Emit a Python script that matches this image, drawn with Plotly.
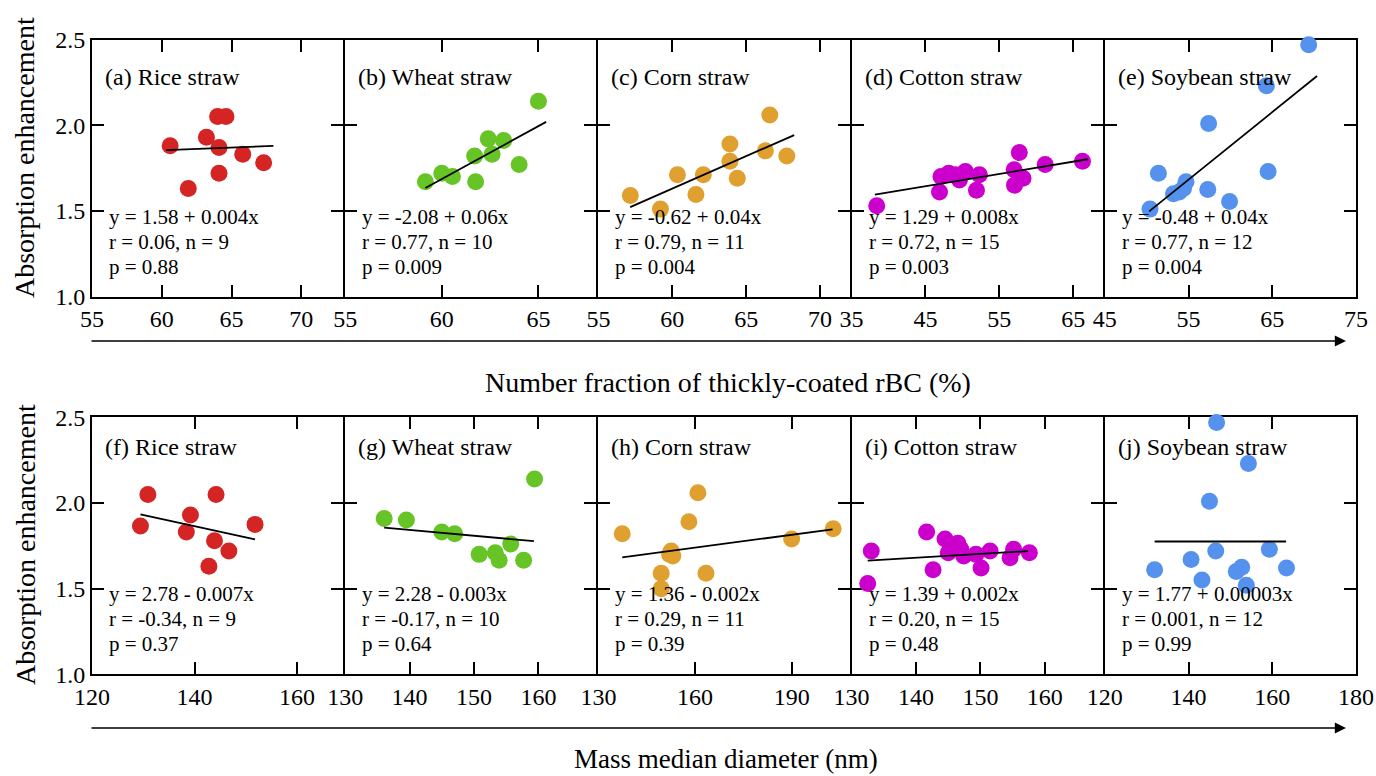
import plotly.graph_objects as go

# ---------------- data ----------------
# Row 1: number fraction of thickly-coated rBC (%)
nf_rice_x = [60.6, 61.9, 63.2, 64.0, 64.6, 64.1, 64.1, 65.8, 67.3]
nf_rice_y = [1.88, 1.63, 1.93, 2.05, 2.05, 1.87, 1.72, 1.83, 1.78]
nf_wheat_x = [59.15, 60.0, 60.55, 61.7, 61.75, 62.4, 62.6, 63.2, 64.0, 65.0]
nf_wheat_y = [1.67, 1.72, 1.70, 1.82, 1.67, 1.92, 1.83, 1.91, 1.77, 2.14]
nf_corn_x = [57.16, 59.2, 60.35, 61.6, 62.1, 63.9, 63.9, 64.4, 66.3, 66.6, 67.75]
nf_corn_y = [1.59, 1.51, 1.71, 1.595, 1.71, 1.89, 1.79, 1.69, 1.85, 2.06, 1.82]
nf_cotton_x = [38.4, 46.9, 47.1, 48.15, 49.05, 49.6, 50.4, 51.9, 52.3, 57.0, 57.05, 57.7, 58.2, 61.2, 66.25]
nf_cotton_y = [1.53, 1.61, 1.70, 1.72, 1.71, 1.68, 1.73, 1.62, 1.71, 1.74, 1.65, 1.84, 1.69, 1.77, 1.79]
nf_soy_x = [50.4, 51.4, 53.2, 53.9, 54.4, 54.7, 57.3, 57.4, 59.9, 64.3, 64.5, 69.35]
nf_soy_y = [1.51, 1.72, 1.60, 1.61, 1.63, 1.67, 1.625, 2.01, 1.555, 2.23, 1.73, 2.47]

# Row 2: mass median diameter (nm)
mmd_rice_x = [129.45, 130.9, 138.4, 139.2, 142.8, 143.9, 144.2, 146.7, 151.8]
mmd_rice_y = [1.865, 2.05, 1.83, 1.93, 1.63, 1.78, 2.05, 1.72, 1.875]
mmd_wheat_x = [136.05, 139.5, 145.0, 147.0, 150.8, 153.3, 153.9, 155.7, 157.7, 159.4]
mmd_wheat_y = [1.91, 1.90, 1.83, 1.82, 1.70, 1.71, 1.665, 1.76, 1.665, 2.14]
mmd_corn_x = [137.4, 149.5, 149.5, 152.1, 152.6, 153.1, 158.1, 160.9, 163.4, 190.0, 202.9]
mmd_corn_y = [1.82, 1.59, 1.50, 1.70, 1.72, 1.69, 1.89, 2.06, 1.59, 1.79, 1.85]
mmd_cotton_x = [133.05, 132.5, 141.65, 142.65, 144.5, 145.0, 146.5, 146.95, 147.4, 149.3, 150.1, 151.5, 154.6, 155.15, 157.6]
mmd_cotton_y = [1.72, 1.53, 1.83, 1.61, 1.79, 1.71, 1.765, 1.73, 1.69, 1.70, 1.62, 1.72, 1.68, 1.73, 1.71]
mmd_soy_x = [146.7, 154.3, 145.0, 131.9, 140.6, 143.2, 146.5, 151.4, 152.7, 153.8, 159.3, 163.4]
mmd_soy_y = [2.47, 2.23, 2.01, 1.61, 1.67, 1.55, 1.72, 1.60, 1.625, 1.52, 1.73, 1.62]

# fitted line end points (x0, x1), (y0, y1)
fit_x = [[60.3, 68.0], [59.15, 65.4], [57.15, 68.25], [38.15, 66.95], [50.3, 70.35],
         [129.45, 151.8], [136.05, 159.3], [137.4, 202.7], [132.5, 157.4], [131.9, 163.3]]
fit_y = [[1.854, 1.879], [1.633, 2.019], [1.522, 1.942], [1.595, 1.801], [1.497, 2.287],
         [1.934, 1.787], [1.856, 1.777], [1.683, 1.846], [1.664, 1.719], [1.775, 1.775]]

panel_titles = ["(a) Rice straw", "(b) Wheat straw", "(c) Corn straw", "(d) Cotton straw", "(e) Soybean straw",
                "(f) Rice straw", "(g) Wheat straw", "(h) Corn straw", "(i) Cotton straw", "(j) Soybean straw"]
eq_lines = [
    ["y = 1.58 + 0.004x", "r = 0.06, n = 9", "p = 0.88"],
    ["y = -2.08 + 0.06x", "r = 0.77, n = 10", "p = 0.009"],
    ["y = -0.62 + 0.04x", "r = 0.79, n = 11", "p = 0.004"],
    ["y = 1.29 + 0.008x", "r = 0.72, n = 15", "p = 0.003"],
    ["y = -0.48 + 0.04x", "r = 0.77, n = 12", "p = 0.004"],
    ["y = 2.78 - 0.007x", "r = -0.34, n = 9", "p = 0.37"],
    ["y = 2.28 - 0.003x", "r = -0.17, n = 10", "p = 0.64"],
    ["y = 1.36 - 0.002x", "r = 0.29, n = 11", "p = 0.39"],
    ["y = 1.39 + 0.002x", "r = 0.20, n = 15", "p = 0.48"],
    ["y = 1.77 + 0.00003x", "r = 0.001, n = 12", "p = 0.99"],
]
x_ranges = [[55, 73], [55, 68], [55, 72], [35, 69], [45, 75],
            [120, 169], [130, 169], [130, 208], [130, 169], [120, 180]]
x_ticks = [[55, 60, 65, 70], [55, 60, 65], [55, 60, 65, 70], [35, 45, 55, 65], [45, 55, 65, 75],
           [120, 140, 160], [130, 140, 150, 160], [130, 160, 190], [130, 140, 150, 160], [120, 140, 160, 180]]
y_ticks = [1.0, 1.5, 2.0, 2.5]
y_ticklabels = ["1.0", "1.5", "2.0", "2.5"]
colors = ["#d42424", "#66c426", "#e0a030", "#cc00cc", "#5592ee"]

xs = [nf_rice_x, nf_wheat_x, nf_corn_x, nf_cotton_x, nf_soy_x,
      mmd_rice_x, mmd_wheat_x, mmd_corn_x, mmd_cotton_x, mmd_soy_x]
ys = [nf_rice_y, nf_wheat_y, nf_corn_y, nf_cotton_y, nf_soy_y,
      mmd_rice_y, mmd_wheat_y, mmd_corn_y, mmd_cotton_y, mmd_soy_y]

# ---------------- layout geometry (pixels) ----------------
W, H = 1376, 776
FONT = "Liberation Serif"
left, total_w, gap = 92, 1264, 2
pw = (total_w - 4 * gap) / 5
row_top = [39.5, 417.3]
row_bot = [296.5, 674.3]

fig = go.Figure()
annotations = []
layout = {}

for i in range(10):
    n = i + 1
    r, c = divmod(i, 5)
    xa = "x" if n == 1 else f"x{n}"
    ya = "y" if n == 1 else f"y{n}"
    fig.add_trace(go.Scatter(
        x=xs[i], y=ys[i], mode="markers", xaxis=xa, yaxis=ya,
        marker=dict(size=17, color=colors[c], line=dict(width=0)),
        cliponaxis=False, showlegend=False))
    fig.add_trace(go.Scatter(
        x=fit_x[i], y=fit_y[i], mode="lines", xaxis=xa, yaxis=ya,
        line=dict(color="black", width=1.8), cliponaxis=False, showlegend=False))

    x0 = (left + c * (pw + gap)) / W
    x1 = (left + c * (pw + gap) + pw) / W
    y0 = 1 - row_bot[r] / H
    y1 = 1 - row_top[r] / H
    common = dict(showline=True, linewidth=2, linecolor="black", mirror="ticks",
                  ticks="inside", ticklen=12, tickwidth=2, tickcolor="black",
                  showgrid=False, zeroline=False, automargin=False, layer="below traces",
                  tickfont=dict(family=FONT, size=24, color="black"))
    layout["xaxis" if n == 1 else f"xaxis{n}"] = dict(
        domain=[x0, x1], anchor=ya, range=x_ranges[i],
        tickmode="array", tickvals=x_ticks[i], ticktext=[str(t) for t in x_ticks[i]],
        **common)
    layout["yaxis" if n == 1 else f"yaxis{n}"] = dict(
        domain=[y0, y1], anchor=xa, range=[1.0, 2.5],
        tickmode="array", tickvals=y_ticks, ticktext=y_ticklabels,
        showticklabels=(c == 0), **common)

    xd = f"{xa} domain"
    yd = f"{ya} domain"
    title_shift = -37 if r == 0 else -30
    annotations.append(dict(text=panel_titles[i], xref=xd, yref=yd, x=0, y=1,
                            xanchor="left", yanchor="middle", xshift=11, yshift=title_shift,
                            showarrow=False, font=dict(family=FONT, size=24, color="black")))
    for k, line in enumerate(eq_lines[i]):
        annotations.append(dict(text=line, xref=xd, yref=yd, x=0, y=0,
                                xanchor="left", yanchor="middle", xshift=15,
                                yshift=80 - 25 * k,
                                showarrow=False, font=dict(family=FONT, size=21, color="black")))

# long arrows under each row
for ay_px in [341, 728]:
    annotations.append(dict(x=1346 / W, y=1 - ay_px / H, xref="paper", yref="paper",
                            ax=-1256, ay=0, axref="pixel", ayref="pixel",
                            showarrow=True, arrowhead=2, arrowsize=1.4, arrowwidth=1.6,
                            arrowcolor="black", text=""))

# axis titles
annotations.append(dict(text="Number fraction of thickly-coated rBC (%)", x=728 / W, y=1 - 382 / H,
                        xref="paper", yref="paper", showarrow=False, xanchor="center", yanchor="middle",
                        font=dict(family=FONT, size=28, color="black")))
annotations.append(dict(text="Mass median diameter (nm)", x=726 / W, y=1 - 759 / H,
                        xref="paper", yref="paper", showarrow=False, xanchor="center", yanchor="middle",
                        font=dict(family=FONT, size=27, color="black")))
for cy in [158, 545]:
    annotations.append(dict(text="Absorption enhancement", x=25 / W, y=1 - cy / H,
                            xref="paper", yref="paper", showarrow=False, textangle=-90,
                            xanchor="center", yanchor="middle",
                            font=dict(family=FONT, size=28, color="black")))

fig.update_layout(width=W, height=H, margin=dict(l=0, r=0, t=0, b=0, pad=0, autoexpand=False),
                  paper_bgcolor="white", plot_bgcolor="white",
                  annotations=annotations, **layout)

fig.write_html("out.html")
